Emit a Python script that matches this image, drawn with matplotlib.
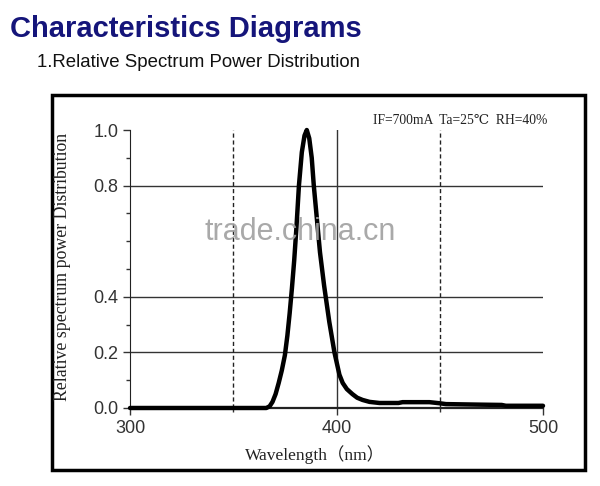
import matplotlib
matplotlib.use("Agg")
import matplotlib.pyplot as plt
from matplotlib.patches import Rectangle
from matplotlib.ticker import MultipleLocator

# Spectrum
wavelength_nm = [300, 340, 360, 366, 367.6, 369, 370.5, 372, 373.5, 375, 376.2,
                 377.3, 378.4, 379.5, 380.6, 381.8, 383.2, 384.5, 385.6, 386.8, 388,
                 389, 390.5, 392, 394, 396.5, 399, 401.4, 403, 405, 407.7,
                 410, 412.6, 416, 420.8, 430, 432, 445, 450, 453, 470, 480,
                 482, 500]
relative_power = [0.0, 0.0, 0.0, 0.0, 0.006, 0.022, 0.05, 0.09, 0.135, 0.19, 0.26,
                  0.34, 0.43, 0.53, 0.65, 0.8, 0.92, 0.98, 1.0, 0.97, 0.9,
                  0.8, 0.68, 0.56, 0.44, 0.31, 0.2, 0.12, 0.09, 0.068, 0.05,
                  0.037, 0.029, 0.022, 0.018, 0.018, 0.021, 0.021, 0.017, 0.014, 0.012, 0.011,
                  0.008, 0.008]

y_ticks = [0.0, 0.2, 0.4, 0.8, 1.0]
y_tick_labels = ["0.0", "0.2", "0.4", "0.8", "1.0"]
x_ticks = [300, 400, 500]
h_grid = [0.2, 0.4, 0.8]
v_dashed = [350, 450]
v_solid = [400]

fig = plt.figure(figsize=(6, 4.86), dpi=100)

fig.text(0.017, 0.94, "Characteristics Diagrams", fontsize=21, fontweight="bold",
         color="#15157a", family="Liberation Sans", va="center")
fig.text(0.062, 0.871, "1.Relative Spectrum Power Distribution", fontsize=13.4,
         color="#111111", family="Liberation Sans", va="center")

# outer frame
fig.patches.append(Rectangle((0.0867, 0.0329), 0.8883, 0.7716, transform=fig.transFigure,
                             fill=False, edgecolor="black", linewidth=2.5))

ax = fig.add_axes([0.2167, 0.1605, 0.6883, 0.572])
ax.set_xlim(300, 500)
ax.set_ylim(0, 1.0)

for spine in ("top", "right"):
    ax.spines[spine].set_visible(False)
ax.spines["left"].set_color("#222222")
ax.spines["bottom"].set_color("#222222")
ax.spines["bottom"].set_linewidth(1.6)

for yv in h_grid:
    ax.axhline(yv, color="#333333", linewidth=1.0, zorder=1)
for xv in v_dashed:
    ax.axvline(xv, color="#222222", linewidth=1.0, linestyle=(0, (3, 2)), zorder=1)
for xv in v_solid:
    ax.axvline(xv, color="#333333", linewidth=1.0, zorder=1)

ax.plot(wavelength_nm, relative_power, color="black", linewidth=3.2,
        solid_joinstyle="round", solid_capstyle="round", clip_on=False, zorder=3)

ax.set_yticks(y_ticks)
ax.set_yticklabels(y_tick_labels)
ax.yaxis.set_minor_locator(MultipleLocator(0.1))
ax.set_xticks(x_ticks)
ax.xaxis.set_minor_locator(MultipleLocator(50))
ax.tick_params(axis="both", which="major", labelsize=13, colors="#333333",
               length=5, width=1)
ax.tick_params(axis="both", which="minor", length=3, width=1, colors="#333333")
for lab in ax.get_xticklabels() + ax.get_yticklabels():
    lab.set_family("Liberation Sans")

fig.text(0.525, 0.064, "Wavelength（nm）", fontsize=12.5,
         family=["Liberation Serif", "Noto Sans CJK SC"], color="#222222",
         ha="center", va="center")
fig.text(0.105, 0.45, "Relative spectrum power Distribution", rotation=90, fontsize=12.8,
         family="Liberation Serif", color="#222222", ha="center", va="center")
fig.text(0.913, 0.753, "IF=700mA  Ta=25℃  RH=40%", fontsize=9.8,
         family=["Liberation Serif", "DejaVu Serif"], color="#222222", ha="right", va="center")

# watermark
fig.text(0.5, 0.523, "trade.china.cn", fontsize=22, family="Liberation Sans",
         color="#a0a0a0", ha="center", va="center", alpha=0.9)

fig.savefig("out.png", dpi=100)
